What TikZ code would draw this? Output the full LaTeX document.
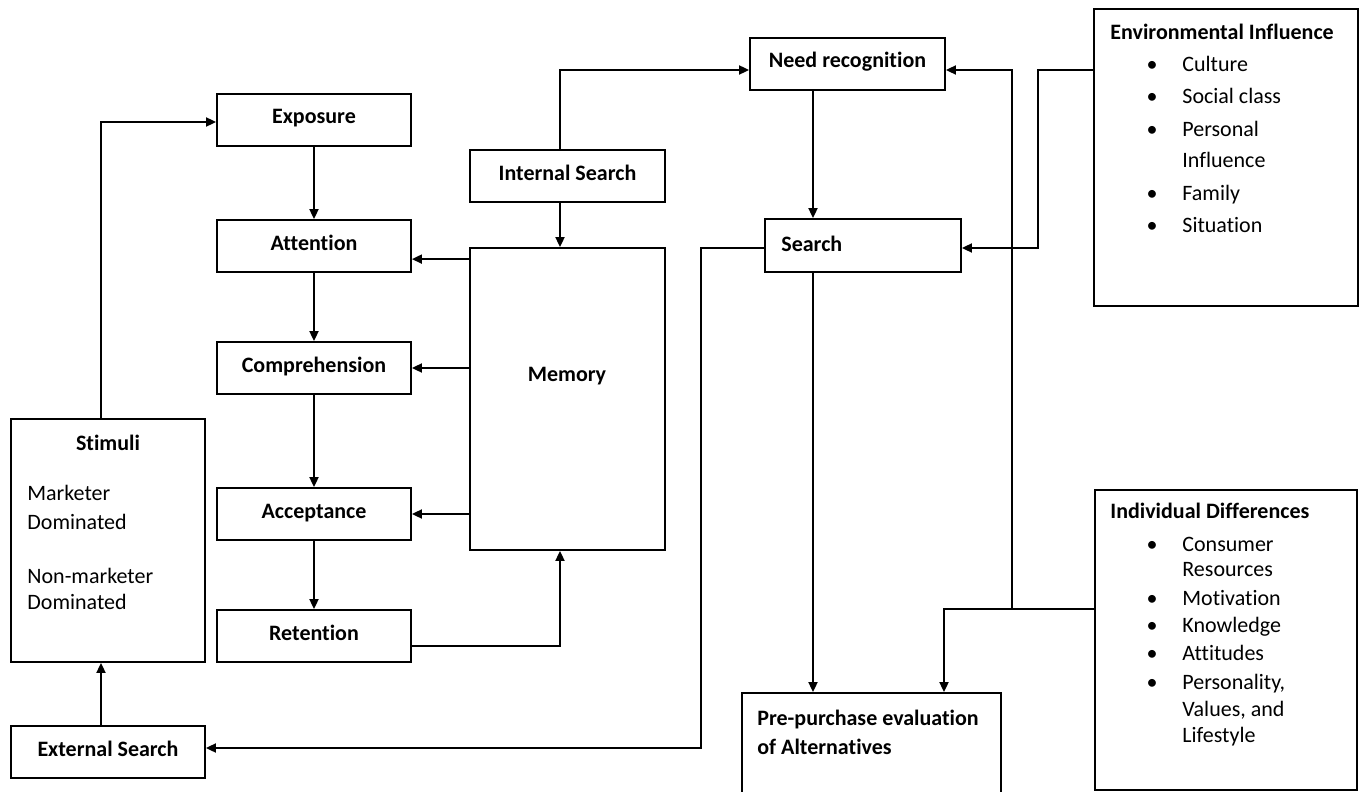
\documentclass[tikz,border=0pt]{standalone}
\usepackage{fontspec}
\setmainfont{Carlito}[Ligatures=NoCommon]
\usetikzlibrary{arrows.meta}
\begin{document}
\begin{tikzpicture}[x=0.5pt,y=-0.5pt,
  lw/.style={line width=0.9pt},
  box/.style={draw, lw, inner sep=0pt, font=\bfseries, text height=8pt, text depth=4pt},
  arr/.style={lw, -{Triangle[length=5pt,width=4.5pt]}},
  ln/.style={lw},
  txt/.style={inner sep=0pt, anchor=west, text height=10pt, text depth=2pt},
  ttl/.style={txt, font=\bfseries},
  blt/.style={inner sep=0pt, anchor=center, text height=10pt, text depth=2pt}]
\fontsize{11pt}{13pt}\selectfont
\useasboundingbox (0,0) rectangle (1360,792);
% boxes
\node[box, minimum width=97pt, minimum height=26pt] (expo) at (314,120) {Exposure};
\node[box, minimum width=97pt, minimum height=26pt] (att) at (314,246) {Attention};
\node[box, minimum width=97pt, minimum height=26pt] (comp) at (314,368) {Comprehension};
\node[box, minimum width=97pt, minimum height=26pt] (acc) at (314,514) {Acceptance};
\node[box, minimum width=97pt, minimum height=26pt] (ret) at (314,636) {Retention};
\node[box, minimum width=97.5pt, minimum height=26pt] (ints) at (567.5,176) {Internal Search};
\node[box, minimum width=97.5pt, minimum height=151pt] (mem) at (567.5,399) {};
\node[ttl, anchor=center] (memlbl) at (567,373) {Memory};
\node[box, minimum width=97pt, minimum height=121.5pt] (stim) at (108,540.5) {};
\node[ttl, anchor=center] (stimt) at (108,442) {Stimuli};
\node[txt] (s1) at (27,492) {Marketer};
\node[txt] (s2) at (27,521) {Dominated};
\node[txt] (s3) at (27,575) {Non-marketer};
\node[txt] (s4) at (27,601) {Dominated};
\node[box, minimum width=97pt, minimum height=26pt] (ext) at (108,752) {External Search};
\node[box, minimum width=97.5pt, minimum height=26pt] (need) at (847.5,64) {Need recognition};
\node[box, minimum width=98pt, minimum height=26.5pt] (srch) at (863,245.5) {};
\node[ttl] (srchlbl) at (781,243) {Search};
\node[box, minimum width=129.5pt, minimum height=53.5pt] (pre) at (871.5,746.5) {};
\node[ttl] (pre1) at (757,717) {Pre-purchase evaluation};
\node[ttl] (pre2) at (757,746) {of Alternatives};
% environmental influence
\node[box, minimum width=132pt, minimum height=148.5pt] (env) at (1226,157.5) {};
\node[ttl] (envt) at (1110,32) {Environmental Influence};
\node[blt] (eb1) at (1152,64) {•};
\node[txt] (e1) at (1182,64) {Culture};
\node[blt] (eb2) at (1152,96) {•};
\node[txt] (e2) at (1182,96) {Social class};
\node[blt] (eb3) at (1152,128) {•};
\node[txt] (e3) at (1182,128) {Personal};
\node[txt] (e4) at (1182,160) {Influence};
\node[blt] (eb5) at (1152,192) {•};
\node[txt] (e5) at (1182,192) {Family};
\node[blt] (eb6) at (1152,224) {•};
\node[txt] (e6) at (1182,224) {Situation};
% individual differences
\node[box, minimum width=131pt, minimum height=150pt] (ind) at (1226,640) {};
\node[ttl] (indt) at (1110,510) {Individual Differences};
\node[blt] (ib1) at (1152,543) {•};
\node[txt] (i1) at (1182,543) {Consumer};
\node[txt] (i2) at (1182,568) {Resources};
\node[blt] (ib3) at (1152,597) {•};
\node[txt] (i3) at (1182,597) {Motivation};
\node[blt] (ib4) at (1152,624) {•};
\node[txt] (i4) at (1182,624) {Knowledge};
\node[blt] (ib5) at (1152,652) {•};
\node[txt] (i5) at (1182,652) {Attitudes};
\node[blt] (ib6) at (1152,681) {•};
\node[txt] (i6) at (1182,681) {Personality,};
\node[txt] (i7) at (1182,708) {Values, and};
\node[txt] (i8) at (1182,734) {Lifestyle};
% connectors: left chain
\draw[arr] (expo) -- (att);
\draw[arr] (att) -- (comp);
\draw[arr] (comp) -- (acc);
\draw[arr] (acc) -- (ret);
% memory
\draw[arr] ([yshift=-6pt]mem.north west) -- ([yshift=-6pt]mem.north west -| att.east);
\draw[arr] (mem.west |- comp.east) -- (comp.east);
\draw[arr] (mem.west |- acc.east) -- (acc.east);
\draw[arr] ([yshift=-5pt]ret.east) -| ([xshift=-3.75pt]mem.south);
\draw[arr] ([xshift=-3.75pt]ints.south) -- ([xshift=-3.75pt]mem.north);
\draw[arr] ([xshift=-3.75pt]ints.north) |- ([yshift=-3pt]need.west);
% decision chain
\draw[arr] ([xshift=-17.25pt]need.south) -- ([xshift=-17.25pt]need.south |- srch.north);
\draw[arr] ([xshift=-25pt]srch.south) -- ([xshift=-25pt]srch.south |- pre.north);
\draw[arr] ([yshift=-1.25pt]srch.west) -- ++(-63,0) |- ([yshift=2pt]ext.east);
\draw[arr] ([xshift=-3.5pt]ext.north) -- ([xshift=-3.5pt]stim.south);
\draw[arr] ([xshift=-3.5pt]stim.north) |- ([yshift=-1pt]expo.west);
% influences
\draw[arr] ([yshift=43.75pt]env.west) -- ++(-55,0) |- ([yshift=-1.25pt]srch.east);
\draw[arr] ([yshift=15.5pt]ind.west) -| ([xshift=36.25pt]pre.north);
\coordinate (j) at ([yshift=15.5pt,xshift=-41pt]ind.west);
\draw[arr] (j) |- ([yshift=-3pt]need.east);
\end{tikzpicture}
\end{document}
